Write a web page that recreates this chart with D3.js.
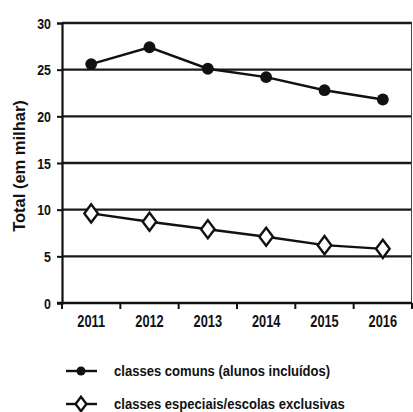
<!DOCTYPE html>
<html>
<head>
<meta charset="utf-8">
<script src="https://cdn.jsdelivr.net/npm/d3@7"></script>
<style>
  html, body { margin: 0; padding: 0; background: #fff; }
  svg { display: block; }
  text { font-family: "Liberation Sans", Arial, sans-serif; font-weight: bold; fill: #111; }
</style>
</head>
<body>
<svg id="chart" width="413" height="412"></svg>
<script>
// Enrollment of students with disabilities, thousands
const years = ["2011", "2012", "2013", "2014", "2015", "2016"];
const comuns = [25.6, 27.4, 25.1, 24.2, 22.8, 21.8];
const especiais = [9.6, 8.7, 7.9, 7.1, 6.2, 5.8];
const yTicks = [0, 5, 10, 15, 20, 25, 30];
const seriesNames = ["classes comuns (alunos incluídos)", "classes especiais/escolas exclusivas"];

const svg = d3.select("#chart");
const plotL = 62, plotR = 412, plotT = 23, plotB = 303;
const narrow = 0.8; // horizontal squeeze for the condensed label face

const x = d3.scaleBand().domain(years).range([plotL, plotR]).padding(0);
const y = d3.scaleLinear().domain([0, 30]).range([plotB, plotT]);

// horizontal gridlines
svg.append("g").selectAll("line").data(yTicks.filter(d => d > 0)).join("line")
  .attr("x1", plotL).attr("x2", plotR)
  .attr("y1", d => y(d)).attr("y2", d => y(d))
  .attr("stroke", "#1a1a1a").attr("stroke-width", 2.4);

// right frame edge
svg.append("line").attr("x1", plotR - 0.5).attr("x2", plotR - 0.5)
  .attr("y1", y(30)).attr("y2", y(0))
  .attr("stroke", "#444").attr("stroke-width", 1);

// y axis
const yAxis = svg.append("g").attr("transform", `translate(${plotL},0)`)
  .call(d3.axisLeft(y).tickValues(yTicks).tickSize(5).tickFormat(""));
yAxis.select(".domain").attr("stroke", "#111").attr("stroke-width", 2.2);
yAxis.selectAll(".tick line").attr("stroke", "#111").attr("stroke-width", 2);
svg.append("g").selectAll("text").data(yTicks).join("text")
  .attr("transform", d => `translate(51,${y(d) + 5.5}) scale(${narrow},1)`)
  .attr("text-anchor", "end").style("font-size", "15.5px")
  .text(d => d);

// x axis: ticks on category boundaries, labels centered on bands
const bounds = years.map(d => x(d)).concat([plotR]);
const xg = svg.append("g");
xg.append("line").attr("x1", plotL - 5).attr("x2", plotR).attr("y1", plotB).attr("y2", plotB)
  .attr("stroke", "#111").attr("stroke-width", 2.4);
xg.selectAll("line.tk").data(bounds).join("line").attr("class", "tk")
  .attr("x1", d => d).attr("x2", d => d).attr("y1", plotB).attr("y2", plotB + 6)
  .attr("stroke", "#111").attr("stroke-width", 2);
xg.selectAll("text").data(years).join("text")
  .attr("transform", d => `translate(${x(d) + x.bandwidth() / 2},327) scale(${narrow},1)`)
  .attr("text-anchor", "middle").style("font-size", "16px")
  .text(d => d);

// y axis title
svg.append("text")
  .attr("transform", "translate(25,166) rotate(-90)")
  .attr("text-anchor", "middle").style("font-size", "16.5px")
  .text("Total (em milhar)");

const cx = d => x(d) + x.bandwidth() / 2;
const line = d3.line().x((d, i) => cx(years[i])).y(d => y(d));

// series lines
svg.append("path").datum(comuns).attr("d", line)
  .attr("fill", "none").attr("stroke", "#111").attr("stroke-width", 2.4);
svg.append("path").datum(especiais).attr("d", line)
  .attr("fill", "none").attr("stroke", "#111").attr("stroke-width", 2.4);

// markers
const circle = d3.symbol().type(d3.symbolCircle).size(110);
const diamond = d3.symbol().type(d3.symbolDiamond).size(95);
svg.append("g").selectAll("path").data(comuns).join("path")
  .attr("transform", (d, i) => `translate(${cx(years[i])},${y(d)})`)
  .attr("d", circle).attr("fill", "#111");
svg.append("g").selectAll("path").data(especiais).join("path")
  .attr("transform", (d, i) => `translate(${cx(years[i])},${y(d)}) scale(1.3,1)`)
  .attr("d", diamond).attr("fill", "#fff").attr("stroke", "#111").attr("stroke-width", 2);

// legend
const legY = [371, 404];
const lg = svg.append("g");
lg.selectAll("line").data(legY).join("line")
  .attr("x1", 66).attr("x2", 97).attr("y1", d => d).attr("y2", d => d)
  .attr("stroke", "#111").attr("stroke-width", 2.4);
lg.append("path").attr("transform", `translate(81,${legY[0]})`)
  .attr("d", d3.symbol().type(d3.symbolCircle).size(65)).attr("fill", "#111");
lg.append("path").attr("transform", `translate(81,${legY[1]}) scale(1.3,1)`)
  .attr("d", d3.symbol().type(d3.symbolDiamond).size(60))
  .attr("fill", "#fff").attr("stroke", "#111").attr("stroke-width", 2);
lg.selectAll("text").data(seriesNames).join("text")
  .attr("transform", (d, i) => `translate(114,${legY[i] + 5}) scale(0.86,1)`)
  .style("font-size", "15.2px")
  .text(d => d);
</script>
</body>
</html>
